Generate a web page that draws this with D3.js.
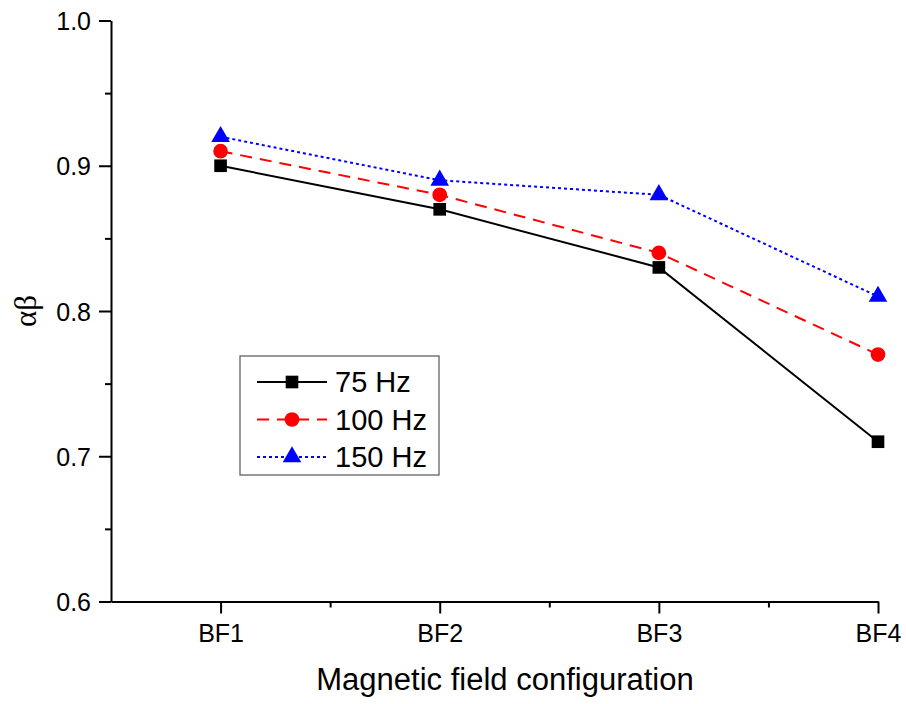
<!DOCTYPE html>
<html>
<head>
<meta charset="utf-8">
<script src="https://cdn.jsdelivr.net/npm/d3@7"></script>
<style>
  body { margin: 0; background: #fff; }
  text { font-family: Arial, "Liberation Sans", sans-serif; fill: #000; }
</style>
</head>
<body>
<div id="chart"></div>
<script>
// chart data
const categories = ["BF1", "BF2", "BF3", "BF4"];
const seriesNames = ["75 Hz", "100 Hz", "150 Hz"];
const values75 = [0.90, 0.87, 0.83, 0.71];
const values100 = [0.91, 0.88, 0.84, 0.77];
const values150 = [0.92, 0.89, 0.88, 0.81];
const yTicks = [0.6, 0.7, 0.8, 0.9, 1.0];

const width = 906, height = 704;
const plotLeft = 111, plotRight = 878, plotTop = 20.5, plotBottom = 601.5;

const svg = d3.select("#chart").append("svg")
    .attr("width", width)
    .attr("height", height);

// x: categories sit at 1..4, axis runs from 0.5 to 4
const x = d3.scaleLinear().domain([0.5, 4]).range([plotLeft, plotRight]);
const y = d3.scaleLinear().domain([0.6, 1.0]).range([plotBottom, plotTop]);

// minor ticks first
svg.append("g")
    .attr("transform", `translate(0,${plotBottom})`)
    .call(d3.axisBottom(x).tickValues([1.5, 2.5, 3.5]).tickSize(6).tickFormat(""))
    .call(g => g.select(".domain").remove())
    .selectAll("line").attr("stroke-width", 2);
svg.append("g")
    .attr("transform", `translate(${plotLeft},0)`)
    .call(d3.axisLeft(y).tickValues([0.65, 0.75, 0.85, 0.95]).tickSize(6).tickFormat(""))
    .call(g => g.select(".domain").remove())
    .selectAll("line").attr("stroke-width", 2);

// major x axis
const xAxis = svg.append("g")
    .attr("transform", `translate(0,${plotBottom})`)
    .call(d3.axisBottom(x).tickValues([1, 2, 3, 4]).tickSize(12).tickSizeOuter(0)
        .tickFormat((d, i) => categories[i]));
xAxis.select(".domain").attr("stroke-width", 2);
xAxis.selectAll("line").attr("stroke-width", 2);
xAxis.selectAll("text").attr("font-size", 25).attr("y", 0).attr("dy", 40)
    .style("font-family", "Arial, 'Liberation Sans', sans-serif");

// major y axis
const yAxis = svg.append("g")
    .attr("transform", `translate(${plotLeft},0)`)
    .call(d3.axisLeft(y).tickValues(yTicks).tickSize(12).tickSizeOuter(0)
        .tickFormat(d3.format(".1f")));
yAxis.select(".domain").attr("stroke-width", 2);
yAxis.selectAll("line").attr("stroke-width", 2);
yAxis.selectAll("text").attr("font-size", 25).attr("x", -20).attr("dy", "0.36em")
    .style("font-family", "Arial, 'Liberation Sans', sans-serif");

// axis titles
svg.append("text")
    .attr("x", 505)
    .attr("y", 690)
    .attr("text-anchor", "middle")
    .attr("font-size", 31)
    .text("Magnetic field configuration");

svg.append("text")
    .attr("transform", `translate(36,${(plotTop + plotBottom) / 2}) rotate(-90)`)
    .attr("text-anchor", "middle")
    .attr("font-size", 31)
    .style("font-family", "'Times New Roman', 'Liberation Serif', serif")
    .text("αβ");

const series = [
    {name: seriesNames[0], values: values75, color: "#000000", dash: null, marker: d3.symbolSquare, size: 160},
    {name: seriesNames[1], values: values100, color: "#ff0000", dash: "12,8", marker: d3.symbolCircle, size: 170},
    {name: seriesNames[2], values: values150, color: "#0000ff", dash: "3,3", marker: d3.symbolTriangle, size: 150}
];

const line = d3.line()
    .x((d, i) => x(i + 1))
    .y(d => y(d));

for (const s of series) {
    svg.append("path")
        .datum(s.values)
        .attr("fill", "none")
        .attr("stroke", s.color)
        .attr("stroke-width", 2)
        .attr("stroke-dasharray", s.dash)
        .attr("d", line);
    svg.selectAll(null)
        .data(s.values)
        .enter().append("path")
        .attr("transform", (d, i) => `translate(${x(i + 1)},${y(d)})`)
        .attr("d", d3.symbol().type(s.marker).size(s.size))
        .attr("fill", s.color);
}

// legend
const legend = svg.append("g");
legend.append("rect")
    .attr("x", 240).attr("y", 356)
    .attr("width", 199).attr("height", 119)
    .attr("fill", "#fff")
    .attr("stroke", "#555")
    .attr("stroke-width", 1.2);

series.forEach((s, i) => {
    const ly = 382 + i * 37.5;
    legend.append("line")
        .attr("x1", 257).attr("x2", 327)
        .attr("y1", ly).attr("y2", ly)
        .attr("stroke", s.color)
        .attr("stroke-width", 2)
        .attr("stroke-dasharray", s.dash);
    legend.append("path")
        .attr("transform", `translate(292,${ly})`)
        .attr("d", d3.symbol().type(s.marker).size(s.size))
        .attr("fill", s.color);
    legend.append("text")
        .attr("x", 335).attr("y", ly)
        .attr("dy", "0.36em")
        .attr("font-size", 29)
        .text(s.name);
});
</script>
</body>
</html>
